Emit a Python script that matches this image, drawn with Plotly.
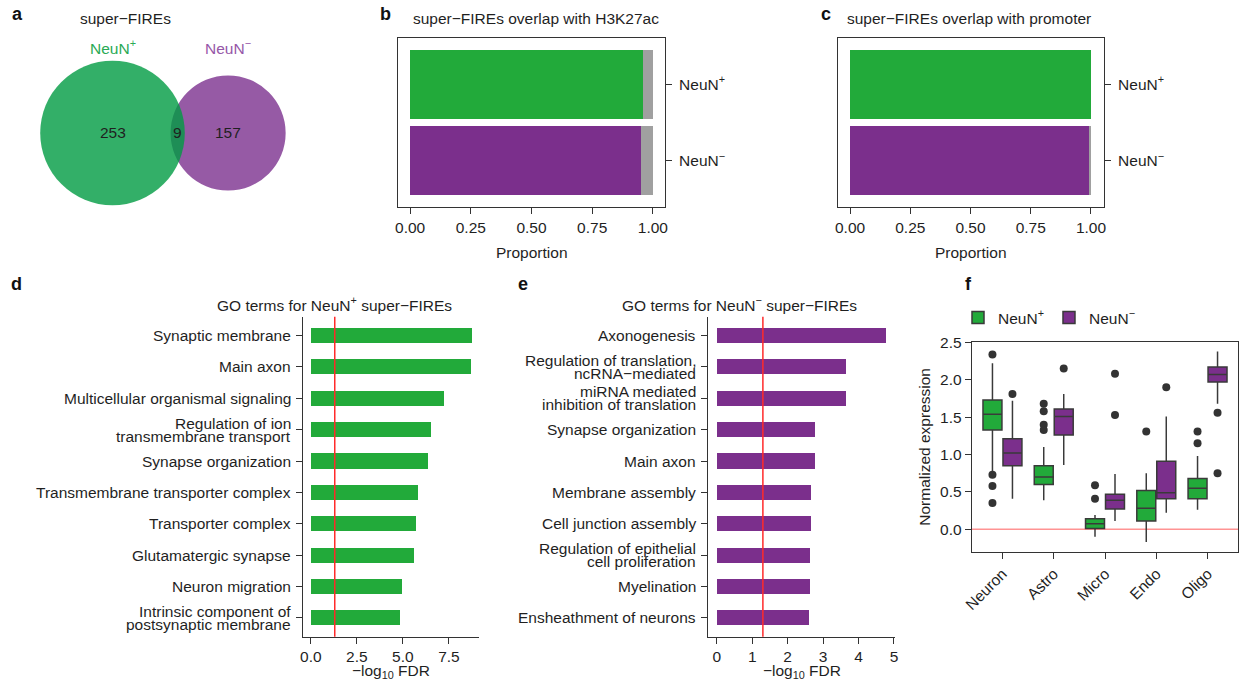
import math
import plotly.graph_objects as go

W, H = 1239, 680
def fx(p): return p / W
def fy(p): return 1 - p / H

FONT = "Liberation Sans, Arial, Helvetica, sans-serif"
TXT = "#1f1f1f"
FS = 15.5
GREEN = "#22AA3A"
PURPLE = "#7B2F8C"
GREY = "#A0A0A0"
VENN_GREEN = "#009B42"
VENN_PURPLE = "#7C318E"

# ---------------- data ----------------
# panel a: Venn counts
venn_plus_only = 253
venn_overlap = 9
venn_minus_only = 157

# panels b, c
groups = ["NeuN<sup>+</sup>", "NeuN<sup>−</sup>"]
group_colors = [GREEN, PURPLE]
h3k27ac_prop = [0.96, 0.95]
promoter_prop = [1.0, 0.994]

# panel d
go_plus_terms = ["Synaptic membrane", "Main axon", "Multicellular organismal signaling",
                 "Regulation of ion<br>transmembrane transport", "Synapse organization",
                 "Transmembrane transporter complex", "Transporter complex",
                 "Glutamatergic synapse", "Neuron migration",
                 "Intrinsic component of<br>postsynaptic membrane"]
go_plus_vals = [8.73, 8.70, 7.21, 6.54, 6.34, 5.82, 5.71, 5.60, 4.95, 4.85]

# panel e
go_minus_terms = ["Axonogenesis", "Regulation of translation,<br>ncRNA−mediated",
                  "miRNA mediated<br>inhibition of translation", "Synapse organization",
                  "Main axon", "Membrane assembly", "Cell junction assembly",
                  "Regulation of epithelial<br>cell proliferation", "Myelination",
                  "Ensheathment of neurons"]
go_minus_vals = [4.79, 3.65, 3.65, 2.77, 2.77, 2.65, 2.65, 2.64, 2.64, 2.60]
fdr_cutoff = 0.05

# panel f
cell_types = ["Neuron", "Astro", "Micro", "Endo", "Oligo"]
plus_q1 = [1.33, 0.60, 0.01, 0.11, 0.41]
plus_med = [1.54, 0.70, 0.075, 0.28, 0.55]
plus_q3 = [1.73, 0.85, 0.14, 0.52, 0.68]
plus_lo = [0.77, 0.39, -0.10, -0.17, 0.26]
plus_hi = [2.22, 1.10, 0.19, 0.75, 0.98]
plus_out = [[2.34, 0.73, 0.58, 0.35], [1.68, 1.58, 1.40, 1.33], [0.59, 0.41], [1.31], [1.31, 1.15]]
minus_q1 = [0.85, 1.26, 0.27, 0.41, 1.97]
minus_med = [1.02, 1.51, 0.39, 0.49, 2.07]
minus_q3 = [1.21, 1.61, 0.47, 0.91, 2.17]
minus_lo = [0.41, 0.86, 0.11, 0.22, 1.68]
minus_hi = [1.72, 1.81, 0.74, 1.51, 2.38]
minus_out = [[1.81], [2.15], [2.08, 1.53], [1.90], [1.56, 0.75]]

fig = go.Figure()

# ---------------- panel a (area-proportional Venn) ----------------
r1 = math.sqrt((venn_plus_only + venn_overlap) / math.pi)
r2 = math.sqrt((venn_minus_only + venn_overlap) / math.pi)

def lens_area(d):
    if d >= r1 + r2:
        return 0.0
    a1 = r1 ** 2 * math.acos((d * d + r1 * r1 - r2 * r2) / (2 * d * r1))
    a2 = r2 ** 2 * math.acos((d * d + r2 * r2 - r1 * r1) / (2 * d * r2))
    a3 = 0.5 * math.sqrt((-d + r1 + r2) * (d + r1 - r2) * (d - r1 + r2) * (d + r1 + r2))
    return a1 + a2 - a3

lo, hi = abs(r1 - r2) + 1e-6, r1 + r2
for _ in range(80):
    mid = (lo + hi) / 2
    if lens_area(mid) > venn_overlap:
        lo = mid
    else:
        hi = mid
dist = (lo + hi) / 2

s = 72.3 / r1  # px per unit
ax_a_px = (0, 330, 30, 230)
cx_px, cy_px = 112.5, 133
xr_a = [(ax_a_px[0] - cx_px) / s, (ax_a_px[1] - cx_px) / s]
yr_a = [-(ax_a_px[3] - cy_px) / s, (cy_px - ax_a_px[2]) / s]

shapes = []
shapes.append(dict(type="circle", xref="x", yref="y", x0=dist - r2, x1=dist + r2, y0=-r2, y1=r2,
                   fillcolor=VENN_PURPLE, opacity=0.8, line=dict(width=0), layer="above"))
shapes.append(dict(type="circle", xref="x", yref="y", x0=-r1, x1=r1, y0=-r1, y1=r1,
                   fillcolor=VENN_GREEN, opacity=0.8, line=dict(width=0), layer="above"))
fig.add_trace(go.Scatter(x=[0], y=[0], mode="markers", marker=dict(opacity=0), showlegend=False,
                         hoverinfo="skip", xaxis="x", yaxis="y"))

annotations = []
def ann(text, x, y, size=FS, color=TXT, xref="paper", yref="paper", bold=False, **kw):
    if bold:
        text = "<b>" + text + "</b>"
    d = dict(text=text, x=x, y=y, xref=xref, yref=yref, showarrow=False,
             xanchor="center", yanchor="middle",
             font=dict(size=size, color=color, family=FONT))
    d.update(kw)
    annotations.append(d)

ann(str(venn_plus_only), 0, 0, xref="x", yref="y")
ann(str(venn_minus_only), dist, 0, xref="x", yref="y")
ann(str(venn_overlap), (r1 + dist - r2) / 2, 0, xref="x", yref="y")
ann("NeuN<sup>+</sup>", 0, fy(47), xref="x", color="#2AAA55")
ann("NeuN<sup>−</sup>", dist, fy(47), xref="x", color="#9657A8")
ann("super−FIREs", fx(125), fy(18))

# ---------------- panels b, c ----------------
for props, xa, ya in [(h3k27ac_prop, "x2", "y2"), (promoter_prop, "x3", "y3")]:
    for g, p, c in zip(groups, props, group_colors):
        fig.add_trace(go.Bar(x=[p], y=[g], orientation="h", marker=dict(color=c, line=dict(width=0)),
                             width=0.9, showlegend=False, xaxis=xa, yaxis=ya))
    fig.add_trace(go.Bar(x=[1 - p for p in props], y=groups, orientation="h",
                         marker=dict(color=GREY, line=dict(width=0)), width=0.9,
                         showlegend=False, xaxis=xa, yaxis=ya))

# ---------------- panels d, e ----------------
fig.add_trace(go.Bar(x=go_plus_vals, y=go_plus_terms, orientation="h", width=0.48,
                     marker=dict(color=GREEN, line=dict(width=0)), showlegend=False,
                     xaxis="x4", yaxis="y4"))
fig.add_trace(go.Bar(x=go_minus_vals, y=go_minus_terms, orientation="h", width=0.48,
                     marker=dict(color=PURPLE, line=dict(width=0)), showlegend=False,
                     xaxis="x5", yaxis="y5"))
thr = -math.log10(fdr_cutoff)
for xa in ["x4", "x5"]:
    shapes.append(dict(type="line", xref=xa, yref=xa.replace("x", "y") + " domain", x0=thr, x1=thr,
                       y0=0, y1=1, line=dict(color="#FF2A2A", width=1.5), layer="above"))

# category labels drawn as tight two-line text at each category position
for terms, xa, ya in [(go_plus_terms, "x4", "y4"), (go_minus_terms, "x5", "y5")]:
    for t in terms:
        lines = t.split("<br>")
        n = len(lines)
        for k, line in enumerate(lines):
            ann(line, 0, t, xref=xa + " domain", yref=ya, xanchor="right", yanchor="middle",
                xshift=-10, yshift=(n - 1) * 6.5 - k * 13)

# ---------------- panel f ----------------
off = 0.195
bw = 0.37
for name, color, q1, med, q3, lo_, hi_, outs, sgn in [
        ("NeuN<sup>+</sup>", GREEN, plus_q1, plus_med, plus_q3, plus_lo, plus_hi, plus_out, -1),
        ("NeuN<sup>−</sup>", PURPLE, minus_q1, minus_med, minus_q3, minus_lo, minus_hi, minus_out, 1)]:
    xs = [i + 1 + sgn * off for i in range(len(cell_types))]
    fig.add_trace(go.Box(x=xs, q1=q1, median=med, q3=q3, lowerfence=lo_, upperfence=hi_,
                         width=bw, fillcolor=color, line=dict(color="#3A3A3A", width=1.5),
                         name=name, showlegend=True, xaxis="x6", yaxis="y6", whiskerwidth=0))
    ox, oy = [], []
    for x, vals in zip(xs, outs):
        for v in vals:
            ox.append(x)
            oy.append(v)
    fig.add_trace(go.Scatter(x=ox, y=oy, mode="markers", marker=dict(color="#333333", size=8),
                             showlegend=False, xaxis="x6", yaxis="y6"))
shapes.append(dict(type="line", xref="x6 domain", yref="y6", x0=0, x1=1, y0=0, y1=0,
                   line=dict(color="rgba(255,120,120,0.8)", width=1.5), layer="below"))

# ---------------- axes ----------------
base = dict(showgrid=False, zeroline=False, linecolor="#333", linewidth=1, ticks="outside",
            ticklen=6, tickcolor="#333", tickwidth=1, automargin=False,
            tickfont=dict(size=FS, color=TXT, family=FONT), showline=True)

def dom_x(a, b): return [fx(a), fx(b)]
def dom_y(top, bottom): return [fy(bottom), fy(top)]

layout = dict(
    width=W, height=H, margin=dict(l=0, r=0, t=0, b=0, autoexpand=False),
    paper_bgcolor="white", plot_bgcolor="white",
    barmode="stack", boxmode="overlay",
    font=dict(family=FONT, size=FS, color=TXT),
    xaxis=dict(domain=dom_x(*ax_a_px[:2]), range=xr_a, visible=False, anchor="y", automargin=False),
    yaxis=dict(domain=dom_y(ax_a_px[2], ax_a_px[3]), range=yr_a, visible=False, anchor="x",
               automargin=False),
)

for i, (x0, x1, xrng) in zip([2, 3], [(398, 665, [-0.05, 1.05]), (838, 1104, [-0.05, 1.054])]):
    layout[f"xaxis{i}"] = dict(base, domain=dom_x(x0, x1), range=xrng, anchor=f"y{i}",
                               tickvals=[0, 0.25, 0.5, 0.75, 1.0], tickformat=".2f", mirror=True)
    layout[f"yaxis{i}"] = dict(base, domain=dom_y(38, 207), range=[-0.6, 1.6], anchor=f"x{i}",
                               type="category", categoryorder="array", ticklabelstandoff=4,
                               categoryarray=list(reversed(groups)), side="right", mirror=True)

layout["xaxis4"] = dict(base, domain=dom_x(302.7, 479.3), range=[-0.44, 9.15], anchor="y4",
                        tickvals=[0, 2.5, 5, 7.5], tickformat=".1f")
layout["yaxis4"] = dict(base, domain=dom_y(316.7, 636.7), range=[-0.6, 9.6], anchor="x4",
                        type="category", categoryorder="array", showticklabels=False,
                        categoryarray=list(reversed(go_plus_terms)))
layout["xaxis5"] = dict(base, domain=dom_x(708.3, 895), range=[-0.24, 5.03], anchor="y5",
                        tickvals=[0, 1, 2, 3, 4, 5])
layout["yaxis5"] = dict(base, domain=dom_y(316.7, 636.7), range=[-0.6, 9.6], anchor="x5",
                        type="category", categoryorder="array", showticklabels=False,
                        categoryarray=list(reversed(go_minus_terms)))
layout["xaxis6"] = dict(base, domain=dom_x(971.7, 1238.3), range=[0.4, 5.6], anchor="y6",
                        tickvals=[1, 2, 3, 4, 5], ticktext=cell_types, tickangle=-45, mirror=True)
layout["yaxis6"] = dict(base, domain=dom_y(341.7, 551.7), range=[-0.30, 2.51], anchor="x6",
                        tickvals=[0, 0.5, 1, 1.5, 2, 2.5], tickformat=".1f", mirror=True)

layout["legend"] = dict(orientation="h", x=fx(958), y=fy(318), xanchor="left", yanchor="middle",
                        font=dict(size=FS, color=TXT, family=FONT), bgcolor="rgba(0,0,0,0)",
                        itemwidth=30, tracegroupgap=0, traceorder="normal")

# titles
ann("super−FIREs overlap with H3K27ac", fx(536), fy(18))
ann("super−FIREs overlap with promoter", fx(969), fy(18))
ann("Proportion", fx(531.5), fy(252))
ann("Proportion", fx(971), fy(252))
ann("GO terms for NeuN<sup>+</sup> super−FIREs", fx(334), fy(304))
ann("GO terms for NeuN<sup>−</sup> super−FIREs", fx(739), fy(304))
ann("−log<sub>10</sub> FDR", fx(391), fy(671))
ann("−log<sub>10</sub> FDR", fx(801.7), fy(671))
ann("Normalized expression", fx(925), fy(446.7), textangle=-90)
# panel letters
for letter, px, py in [("a", 17, 14), ("b", 386, 14), ("c", 826, 14),
                       ("d", 16, 284), ("e", 523, 284), ("f", 969, 284)]:
    ann(letter, fx(px), fy(py), size=18, bold=True, color="#111")

layout["annotations"] = annotations
layout["shapes"] = shapes
fig.update_layout(**layout)
fig.write_html("out.html")
